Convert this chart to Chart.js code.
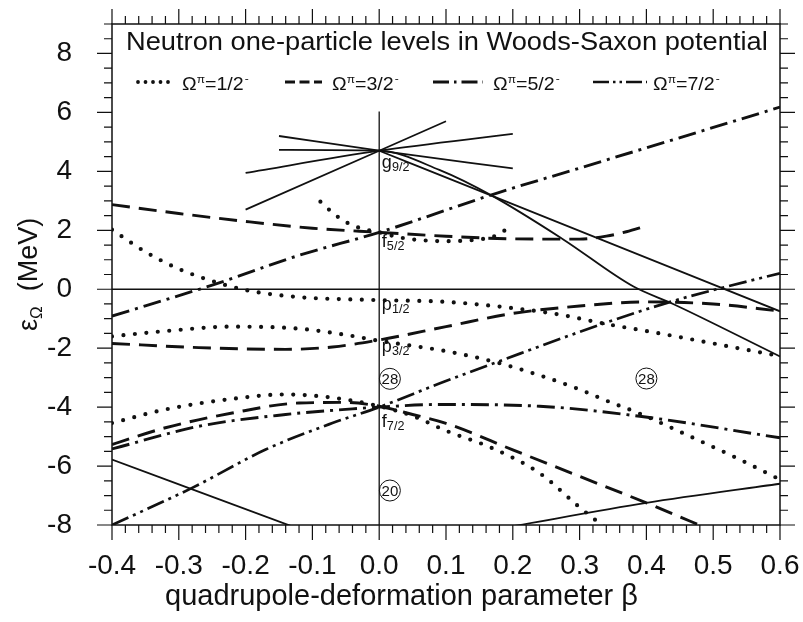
<!DOCTYPE html>
<html>
<head>
<meta charset="utf-8">
<script src="https://cdn.jsdelivr.net/npm/chart.js@4.4.1/dist/chart.umd.min.js"></script>
<style>
  html, body { margin: 0; padding: 0; background: #fff; }
  #wrap { width: 803px; height: 622px; }
</style>
</head>
<body>
<div id="wrap"><canvas id="levels" width="803" height="622"></canvas></div>
<script>
// axis ticks
const xTicks = [-0.4, -0.3, -0.2, -0.1, 0.0, 0.1, 0.2, 0.3, 0.4, 0.5, 0.6];
const yTicks = [-8, -6, -4, -2, 0, 2, 4, 6, 8];

// Omega = 1/2- (dotted)  [beta, energy]
const half1 = [[-0.4, 2.02], [-0.35, 1.27], [-0.3, 0.69], [-0.25, 0.28], [-0.2, -0.03], [-0.15, -0.2], [-0.1, -0.3], [-0.05, -0.34], [0, -0.37], [0.1, -0.43], [0.2, -0.64], [0.27, -0.86], [0.34, -1.18], [0.42, -1.5], [0.5, -1.84], [0.6, -2.27]];
const half2 = [[-0.088, 2.97], [-0.07, 2.6], [-0.05, 2.28], [-0.025, 2.05], [0, 1.93], [0.03, 1.76], [0.06, 1.67], [0.1, 1.63], [0.14, 1.67], [0.17, 1.78], [0.19, 2.02]];
const half3 = [[-0.4, -1.6], [-0.32, -1.42], [-0.22, -1.27], [-0.12, -1.34], [-0.05, -1.55], [0, -1.75], [0.05, -1.92], [0.1, -2.1], [0.17, -2.45], [0.24, -2.92], [0.3, -3.4], [0.34, -3.78], [0.39, -4.22], [0.465, -4.99], [0.54, -5.78], [0.6, -6.46]];
const half4 = [[-0.4, -4.54], [-0.32, -4.08], [-0.22, -3.72], [-0.14, -3.57], [-0.07, -3.68], [0, -3.97], [0.05, -4.3], [0.1, -4.8], [0.17, -5.4], [0.24, -6.24], [0.3, -7.4], [0.35, -8.3]];

// Omega = 3/2- (dashed)
const threeHalf1 = [[-0.4, 2.87], [-0.3, 2.57], [-0.2, 2.3], [-0.1, 2.07], [0, 1.93], [0.1, 1.8], [0.2, 1.71], [0.3, 1.7], [0.34, 1.8], [0.37, 1.95], [0.4, 2.15]];
const threeHalf2 = [[-0.4, -1.84], [-0.27, -1.98], [-0.14, -2.04], [-0.07, -1.96], [0, -1.72], [0.1, -1.27], [0.2, -0.82], [0.3, -0.57], [0.4, -0.43], [0.5, -0.5], [0.6, -0.74]];
const threeHalf3 = [[-0.4, -5.27], [-0.32, -4.7], [-0.22, -4.2], [-0.12, -3.86], [-0.05, -3.84], [0, -3.97], [0.05, -4.25], [0.1, -4.55], [0.2, -5.45], [0.3, -6.35], [0.4, -7.25], [0.5, -8.2]];

// Omega = 5/2- (dash-dot)
const fiveHalf1 = [[-0.4, -0.91], [-0.25, 0.14], [-0.12, 1.15], [0, 1.93], [0.18, 3.29], [0.3, 4.11], [0.6, 6.18]];
const fiveHalf2 = [[-0.4, -5.42], [-0.27, -4.65], [-0.14, -4.25], [-0.04, -4.06], [0, -4.0], [0.09, -3.91], [0.24, -3.97], [0.39, -4.31], [0.6, -5.04]];

// Omega = 7/2- (dash-dot-dot)
const sevenHalf1 = [[-0.4, -8.0], [-0.28, -6.74], [-0.17, -5.44], [-0.07, -4.54], [0, -4.0], [0.09, -3.2], [0.18, -2.44], [0.34, -1.13], [0.44, -0.4], [0.515, 0.06], [0.6, 0.54]];

// positive parity levels (solid)
const plus1 = [[-0.2, 2.7], [0, 4.7], [0.1, 5.7]];
const plus2 = [[-0.15, 5.2], [0, 4.7], [0.2, 4.1]];
const plus3 = [[-0.2, 3.95], [0, 4.7], [0.2, 5.27]];
const plus4 = [[-0.15, 4.73], [0, 4.7], [0.09, 4.05], [0.17, 3.16], [0.275, 1.7], [0.38, 0.1], [0.44, -0.5], [0.6, -2.28]];
const plus5 = [[0, 4.7], [0.17, 3.16], [0.6, -0.75]];
const plus6 = [[-0.4, -5.78], [-0.13, -8.05]];
const plus7 = [[0.2, -8.04], [0.4, -7.25], [0.6, -6.6]];

// reference lines
const zeroLine = [[-0.4, 0], [0.6, 0]];
const sphericalLine = [[0, -8], [0, 6.03]];

// spherical level names: letter, subscript, beta, energy (baseline)
const levelNames = [
    ['g', '9/2', 0.004, 4.12],
    ['f', '5/2', 0.004, 1.43],
    ['p', '1/2', 0.004, -0.71],
    ['p', '3/2', 0.004, -2.14],
    ['f', '7/2', 0.004, -4.69]
];
// magic numbers: text, beta, energy
const magicNumbers = [['28', 0.016, -3.04], ['28', 0.4, -3.03], ['20', 0.016, -6.83]];

const legendLabels = ['1/2', '3/2', '5/2', '7/2'];

const FONT = "'Liberation Sans', Arial, Helvetica, sans-serif";
const INK = '#111';

const styles = {
    dot: { borderWidth: 4.2, borderDash: [0, 11.5], borderCapStyle: 'round' },
    dash: { borderWidth: 2.9, borderDash: [18, 9] },
    dashDot: { borderWidth: 2.9, borderDash: [18, 6, 3, 6] },
    dashDotDot: { borderWidth: 2.7, borderDash: [18, 5, 3, 5, 3, 5] },
    solid: { borderWidth: 1.8 },
    ref: { borderWidth: 1.3, cubicInterpolationMode: 'default', tension: 0 }
};

function series(points, style) {
    return Object.assign({
        data: points.map(p => ({ x: p[0], y: p[1] })),
        showLine: true,
        pointRadius: 0,
        borderColor: INK,
        fill: false,
        cubicInterpolationMode: 'monotone'
    }, styles[style]);
}

function drawStretched(ctx, str, x, y, sx) {
    ctx.save();
    ctx.translate(x, y);
    ctx.scale(sx, 1);
    ctx.fillText(str, 0, 0);
    ctx.restore();
    return ctx.measureText(str).width * sx;
}

// axes should not reserve room for overflowing labels
function noPadding(s) {
    s.paddingTop = 0;
    s.paddingBottom = 0;
    s.paddingLeft = 0;
    s.paddingRight = 0;
}

// frame, minor/major ticks, texts inside the plot
const decorations = {
    id: 'decorations',
    afterDraw(chart) {
        const { ctx, chartArea: a, scales: { x, y } } = chart;
        ctx.save();
        ctx.strokeStyle = INK;
        ctx.fillStyle = INK;

        // frame
        ctx.lineWidth = 1.5;
        ctx.strokeRect(a.left, a.top, a.right - a.left, a.bottom - a.top);

        // ticks, all pointing outward
        ctx.lineWidth = 1.2;
        ctx.beginPath();
        for (let i = 0; i <= 50; i++) {
            const px = x.getPixelForValue(-0.4 + i * 0.02);
            const len = i % 5 === 0 ? 15 : 8;
            ctx.moveTo(px, a.bottom); ctx.lineTo(px, a.bottom + len);
            ctx.moveTo(px, a.top); ctx.lineTo(px, a.top - len);
        }
        for (let i = 0; i <= 34; i++) {
            const py = y.getPixelForValue(-8 + i * 0.5);
            const len = i % 4 === 0 ? 15 : 8;
            ctx.moveTo(a.left, py); ctx.lineTo(a.left - len, py);
            ctx.moveTo(a.right, py); ctx.lineTo(a.right + len, py);
        }
        ctx.stroke();

        // title inside the plot
        ctx.textBaseline = 'alphabetic';
        ctx.textAlign = 'left';
        ctx.font = '25px ' + FONT;
        drawStretched(ctx, 'Neutron one-particle levels in Woods-Saxon potential', a.left + 14, a.top + 26, 1.09);

        // legend
        const legendStyles = [
            { dash: [0, 7.5], cap: 'round', w: 3.8, x0: 138, x1: 170, tx: 182 },
            { dash: [10, 4.5], cap: 'butt', w: 2.9, x0: 285, x1: 322, tx: 332 },
            { dash: [16, 5, 2.5, 5], cap: 'butt', w: 2.9, x0: 433, x1: 483, tx: 493 },
            { dash: [16, 4, 2.5, 4, 2.5, 4], cap: 'butt', w: 2.7, x0: 593, x1: 647, tx: 653 }
        ];
        const ly = a.top + 58;
        legendLabels.forEach((lab, i) => {
            const s = legendStyles[i];
            ctx.save();
            ctx.setLineDash(s.dash);
            ctx.lineCap = s.cap;
            ctx.lineWidth = s.w;
            ctx.beginPath();
            ctx.moveTo(s.x0, ly); ctx.lineTo(s.x1, ly);
            ctx.stroke();
            ctx.restore();
            let tx = s.tx;
            const base = ly + 8;
            ctx.font = '18px ' + FONT;
            tx += drawStretched(ctx, 'Ω', tx, base, 1.09);
            ctx.font = '11px ' + FONT;
            tx += drawStretched(ctx, 'π', tx, base - 7, 1.09);
            ctx.font = '18px ' + FONT;
            tx += drawStretched(ctx, '=' + lab, tx, base, 1.09);
            ctx.font = '11px ' + FONT;
            drawStretched(ctx, '-', tx + 1, base - 8, 1.09);
        });

        // spherical level names
        levelNames.forEach(([m, sub, bx, by]) => {
            const px = x.getPixelForValue(bx);
            const py = y.getPixelForValue(by);
            ctx.font = '18px ' + FONT;
            const w = drawStretched(ctx, m, px, py, 1.0);
            ctx.font = '12px ' + FONT;
            drawStretched(ctx, sub, px + w, py + 3, 1.05);
        });

        // magic numbers in circles
        ctx.lineWidth = 1;
        ctx.textAlign = 'center';
        ctx.textBaseline = 'middle';
        ctx.font = '15px ' + FONT;
        magicNumbers.forEach(([t, bx, by]) => {
            const px = x.getPixelForValue(bx);
            const py = y.getPixelForValue(by);
            ctx.beginPath();
            ctx.arc(px, py, 10.5, 0, Math.PI * 2);
            ctx.stroke();
            ctx.fillText(t, px, py + 1);
        });

        // y axis title with subscript, rotated
        ctx.save();
        ctx.translate(37, 331);
        ctx.rotate(-Math.PI / 2);
        ctx.textAlign = 'left';
        ctx.textBaseline = 'alphabetic';
        ctx.font = '27px ' + FONT;
        let tx = 0;
        ctx.fillText('ε', tx, 0);
        tx += ctx.measureText('ε').width;
        ctx.font = '17px ' + FONT;
        ctx.fillText('Ω', tx, 5);
        tx += ctx.measureText('Ω').width;
        ctx.font = '27px ' + FONT;
        ctx.fillText('  (MeV)', tx, 0);
        ctx.restore();

        ctx.restore();
    }
};

const ctx = document.getElementById('levels').getContext('2d');
const levelsChart = new Chart(ctx, {
    type: 'scatter',
    data: {
        datasets: [
            series(zeroLine, 'ref'),
            series(sphericalLine, 'ref'),
            series(half1, 'dot'),
            series(half2, 'dot'),
            series(half3, 'dot'),
            series(half4, 'dot'),
            series(threeHalf1, 'dash'),
            series(threeHalf2, 'dash'),
            series(threeHalf3, 'dash'),
            series(fiveHalf1, 'dashDot'),
            series(fiveHalf2, 'dashDot'),
            series(sevenHalf1, 'dashDotDot'),
            series(plus1, 'solid'),
            series(plus2, 'solid'),
            series(plus3, 'solid'),
            series(plus4, 'solid'),
            series(plus5, 'solid'),
            series(plus6, 'solid'),
            series(plus7, 'solid')
        ]
    },
    options: {
        responsive: false,
        animation: false,
        devicePixelRatio: 1,
        layout: { padding: { top: 24, right: 0, bottom: 0, left: 0 } },
        plugins: {
            legend: { display: false },
            tooltip: { enabled: false },
            title: {
                display: true,
                position: 'bottom',
                text: 'quadrupole-deformation parameter β',
                color: INK,
                font: { family: FONT, size: 29, weight: 'normal' },
                padding: { top: 0, bottom: 8 }
            }
        },
        scales: {
            x: {
                type: 'linear',
                min: -0.4,
                max: 0.6,
                afterBuildTicks: s => { s.ticks = xTicks.map(v => ({ value: v })); },
                afterFit: s => { s.height = 54.2; noPadding(s); },
                grid: { display: false },
                border: { display: false },
                ticks: {
                    autoSkip: false,
                    maxRotation: 0,
                    padding: 16,
                    color: INK,
                    font: { family: FONT, size: 28 },
                    callback: v => Number(v).toFixed(1)
                }
            },
            y: {
                type: 'linear',
                min: -8,
                max: 9,
                afterBuildTicks: s => { s.ticks = yTicks.map(v => ({ value: v })); },
                afterFit: s => { s.width = 112; noPadding(s); },
                grid: { display: false },
                border: { display: false },
                ticks: {
                    autoSkip: false,
                    padding: 32,
                    color: INK,
                    font: { family: FONT, size: 28 },
                    callback: v => String(v)
                }
            },
            yRight: {
                type: 'linear',
                position: 'right',
                afterFit: s => { s.width = 23; noPadding(s); },
                grid: { display: false },
                border: { display: false },
                ticks: { display: false }
            }
        }
    },
    plugins: [decorations]
});
</script>
</body>
</html>
